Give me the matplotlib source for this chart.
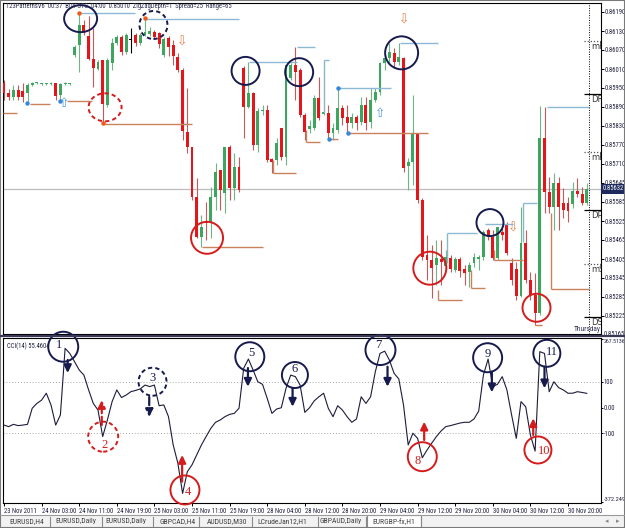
import matplotlib
matplotlib.use('Agg')
import numpy as np
import matplotlib.pyplot as plt
import matplotlib.transforms as mtransforms
from matplotlib.patches import Ellipse, Rectangle
from matplotlib import font_manager
from matplotlib.lines import Line2D
from matplotlib.textpath import TextPath

# ---------------- data ----------------
opens = [
0.85966, 0.85934, 0.85921, 0.85944, 0.85940, 0.85934, 0.85959, 0.85966, 0.85963, 0.85963,
0.85963, 0.85966, 0.85928, 0.85963, 0.85963, 0.86054, 0.86086, 0.86149, 0.86114, 0.86042,
0.86010, 0.86038, 0.85896, 0.86029, 0.86092, 0.86111, 0.86064, 0.86100, 0.86117, 0.86092,
0.86117, 0.86121, 0.86127, 0.86124, 0.86054, 0.86108, 0.86086, 0.86048, 0.86007, 0.85811,
0.85763, 0.85605, 0.85479, 0.85530, 0.85526, 0.85605, 0.85691, 0.85618, 0.85763, 0.85634,
0.85700, 0.86013, 0.85890, 0.85934, 0.85770, 0.85877, 0.85880, 0.85726, 0.85722, 0.85824,
0.85732, 0.85982, 0.86023, 0.86007, 0.85865, 0.85820, 0.85824, 0.85918, 0.85868, 0.85871,
0.85808, 0.85817, 0.85887, 0.85858, 0.85839, 0.85858, 0.85842, 0.85896, 0.85842, 0.85912,
0.85937, 0.86029, 0.86045, 0.86061, 0.86032, 0.86045, 0.85703, 0.85716, 0.85805, 0.85596,
0.85422, 0.85406, 0.85391, 0.85410, 0.85387, 0.85413, 0.85375, 0.85410, 0.85378, 0.85368,
0.85397, 0.85410, 0.85416, 0.85501, 0.85479, 0.85413, 0.85495, 0.85520, 0.85397, 0.85378,
0.85293, 0.85460, 0.85343, 0.85296, 0.85239, 0.85792, 0.85621, 0.85574, 0.85650, 0.85587,
0.85587, 0.85583, 0.85624, 0.85615, 0.85587]
highs = [
0.85975, 0.85947, 0.85959, 0.85959, 0.85966, 0.85966, 0.85969, 0.85969, 0.85966, 0.85966,
0.85969, 0.85966, 0.85966, 0.85969, 0.85966, 0.86086, 0.86187, 0.86165, 0.86177, 0.86140,
0.86038, 0.86038, 0.86045, 0.86108, 0.86117, 0.86117, 0.86124, 0.86140, 0.86124, 0.86124,
0.86171, 0.86143, 0.86133, 0.86127, 0.86111, 0.86114, 0.86102, 0.86061, 0.86013, 0.85950,
0.85763, 0.85666, 0.85549, 0.85590, 0.85637, 0.85713, 0.85691, 0.85763, 0.85770, 0.85745,
0.85732, 0.86019, 0.86032, 0.85937, 0.85887, 0.85896, 0.85896, 0.85729, 0.85792, 0.85824,
0.86023, 0.86029, 0.86079, 0.86013, 0.85871, 0.85849, 0.85928, 0.85985, 0.85887, 0.85896,
0.85839, 0.85950, 0.85896, 0.85896, 0.85871, 0.85865, 0.85921, 0.85921, 0.85950, 0.85950,
0.86032, 0.86051, 0.86092, 0.86076, 0.86092, 0.86048, 0.85729, 0.85928, 0.85808, 0.85602,
0.85485, 0.85454, 0.85470, 0.85470, 0.85438, 0.85422, 0.85416, 0.85416, 0.85391, 0.85400,
0.85429, 0.85422, 0.85501, 0.85508, 0.85501, 0.85511, 0.85508, 0.85526, 0.85413, 0.85400,
0.85574, 0.85501, 0.85368, 0.85365, 0.85893, 0.85890, 0.85669, 0.85681, 0.85669, 0.85634,
0.85605, 0.85653, 0.85666, 0.85637, 0.85650]
lows = [
0.85912, 0.85912, 0.85912, 0.85912, 0.85906, 0.85903, 0.85956, 0.85963, 0.85959, 0.85959,
0.85959, 0.85912, 0.85909, 0.85959, 0.85959, 0.86048, 0.86000, 0.86117, 0.86038, 0.85953,
0.86007, 0.85839, 0.85890, 0.86007, 0.86086, 0.86054, 0.86057, 0.86061, 0.86083, 0.86086,
0.86114, 0.86114, 0.86108, 0.86076, 0.86048, 0.86051, 0.86023, 0.86000, 0.85786, 0.85745,
0.85596, 0.85476, 0.85447, 0.85470, 0.85476, 0.85564, 0.85564, 0.85555, 0.85596, 0.85596,
0.85621, 0.85792, 0.85887, 0.85754, 0.85748, 0.85865, 0.85716, 0.85681, 0.85707, 0.85722,
0.85707, 0.85975, 0.85912, 0.85858, 0.85786, 0.85808, 0.85817, 0.85849, 0.85865, 0.85789,
0.85786, 0.85808, 0.85833, 0.85808, 0.85824, 0.85817, 0.85833, 0.85817, 0.85824, 0.85906,
0.85928, 0.86007, 0.86029, 0.86013, 0.86023, 0.85684, 0.85628, 0.85643, 0.85587, 0.85406,
0.85343, 0.85286, 0.85327, 0.85327, 0.85375, 0.85368, 0.85368, 0.85353, 0.85327, 0.85321,
0.85384, 0.85375, 0.85406, 0.85470, 0.85406, 0.85406, 0.85470, 0.85422, 0.85327, 0.85280,
0.85289, 0.85334, 0.85280, 0.85201, 0.85233, 0.85555, 0.85555, 0.85501, 0.85501, 0.85539,
0.85526, 0.85571, 0.85605, 0.85580, 0.85580]
closes = [
0.85934, 0.85921, 0.85944, 0.85921, 0.85921, 0.85959, 0.85966, 0.85967, 0.85964, 0.85964,
0.85966, 0.85925, 0.85963, 0.85966, 0.85964, 0.86079, 0.86149, 0.86127, 0.86042, 0.86013,
0.86032, 0.85899, 0.86038, 0.86092, 0.86111, 0.86064, 0.86117, 0.86100, 0.86092, 0.86117,
0.86127, 0.86130, 0.86111, 0.86089, 0.86105, 0.86079, 0.86051, 0.86007, 0.85814, 0.85763,
0.85605, 0.85479, 0.85511, 0.85523, 0.85605, 0.85684, 0.85628, 0.85763, 0.85634, 0.85700,
0.85628, 0.85890, 0.85934, 0.85770, 0.85877, 0.85880, 0.85722, 0.85716, 0.85776, 0.85732,
0.86023, 0.86023, 0.86000, 0.85865, 0.85811, 0.85830, 0.85918, 0.85855, 0.85874, 0.85808,
0.85824, 0.85887, 0.85855, 0.85839, 0.85858, 0.85839, 0.85896, 0.85839, 0.85912, 0.85937,
0.86029, 0.86045, 0.86064, 0.86032, 0.86048, 0.85697, 0.85716, 0.85805, 0.85596, 0.85416,
0.85406, 0.85381, 0.85413, 0.85400, 0.85416, 0.85378, 0.85410, 0.85372, 0.85365, 0.85391,
0.85416, 0.85416, 0.85495, 0.85479, 0.85413, 0.85511, 0.85485, 0.85429, 0.85343, 0.85293,
0.85460, 0.85343, 0.85296, 0.85239, 0.85792, 0.85621, 0.85574, 0.85650, 0.85574, 0.85564,
0.85561, 0.85624, 0.85615, 0.85587, 0.85632]

cci_values = [
-69, -75, -66, -71, -69, -66, -3, 16, 29, 56,
10, -69, -29, 232, 212, 180, 147, 127, 69, 16,
-10, -114, -49, 23, 69, 39, 49, 62, 67, 73,
88, 82, 88, 7, 10, -36, -147, -219, -337, -252,
-225, -186, -147, -114, -82, -58, -49, -36, -27, -23,
-3, 154, 190, 147, 101, 91, 36, -23, -6, -1,
75, 127, 121, 88, -19, -1, 26, 42, 56, -3,
-36, 7, -10, -36, -58, -45, 42, 16, 42, 140,
212, 221, 186, 134, 112, 10, -147, -101, -121, -197,
-167, -140, -114, -92, -75, -71, -66, -61, -58, -58,
-45, -14, 127, 190, 82, 91, 121, 69, -29, -121,
23, 3, -108, -171, 219, 212, 62, 101, 78, 69,
56, 56, 62, 59, 55.46]

date_tick_bars = [0, 8, 16, 24, 32, 40, 48, 56, 64, 72, 80, 88, 96, 104, 112, 120]
date_labels = ['23 Nov 2011', '24 Nov 03:00', '24 Nov 11:00', '24 Nov 19:00', '25 Nov 03:00',
               '25 Nov 11:00', '25 Nov 19:00', '28 Nov 04:00', '28 Nov 12:00', '28 Nov 20:00',
               '29 Nov 04:00', '29 Nov 12:00', '29 Nov 20:00', '30 Nov 04:00', '30 Nov 12:00',
               '30 Nov 20:00']

price_tick_values = [0.86190, 0.86130, 0.86070, 0.86010, 0.85950, 0.85890, 0.85830, 0.85770,
                     0.85710, 0.85650, 0.85590, 0.85530, 0.85470, 0.85410, 0.85350, 0.85290,
                     0.85230, 0.85170]
price_tick_labels = ['0.86190', '0.86130', '0.86070', '0.86010', '0.85950', '0.85890', '0.85830',
                     '0.85770', '0.85710', '0.85645', '0.85585', '0.85525', '0.85465', '0.85405',
                     '0.85345', '0.85285', '0.85225', '0.85165']
cci_tick_values = [267.5136, 100, 0, -100, -372.249]
cci_tick_labels = ['267.5136', '100', '0.00', '-100', '-372.249']

# 123-pattern level lines
blue_h_start = [16.0, 30.0, 52.1, 62.3, 71.1, 84.3, 115.5, 94.3, 102.3, 110.4, 68.1]
blue_h_end = [27.9, 50.0, 62.3, 66.2, 82.3, 92.3, 124.5, 100.6, 108.3, 113.4, 69.2]
blue_h_level = [0.86186, 0.86168, 0.86031, 0.86080, 0.85951, 0.86091, 0.85891, 0.85493,
                0.85522, 0.85586, 0.86038]
blue_v_x = [94.3, 110.4, 68.1]
blue_v_top = [0.85493, 0.85586, 0.86038]
blue_v_bottom = [0.85397, 0.85464, 0.85871]

org_h_start = [5.5, 13.4, -0.2, 21.1, 42.1, 57.2, 64.3, 69.4, 73.2, 92.3, 99.4, 104.3, 116.4, 113.0]
org_h_end = [9.8, 18.7, 2.8, 40.0, 55.1, 62.1, 67.2, 71.1, 90.2, 97.4, 102.3, 110.4, 124.5, 114.5]
org_h_level = [0.85899, 0.85909, 0.85872, 0.85836, 0.85447, 0.85680, 0.85780, 0.85788, 0.85807,
               0.85282, 0.85319, 0.85406, 0.85314, 0.85201]
org_v_x = [57.2, 64.3, 92.3, 99.4, 104.3, 116.4]
org_v_top = [0.85722, 0.85817, 0.85312, 0.85375, 0.85438, 0.85555]
org_v_bottom = [0.85680, 0.85780, 0.85282, 0.85319, 0.85406, 0.85314]

blue_dot_x = [4.9, 11.9, 71.1, 69.1, 73.2]
blue_dot_y = [0.85903, 0.85909, 0.85951, 0.85789, 0.85808]
orange_dot_x = [16.0, 21.1, 30.0]
orange_dot_y = [0.86187, 0.85839, 0.86171]

hollow_x = [12.8, 38.0, 85.2, 80.1, 108.4]
hollow_y = [0.85901, 0.86094, 0.86165, 0.85871, 0.85508]
hollow_up = [True, False, False, True, False]

pivot_names = ['mR', 'DR', 'mR', 'DP', 'mS', 'DS']
pivot_levels = [0.86098, 0.85931, 0.85748, 0.85564, 0.85394, 0.85226]
pivot_dotted = [True, False, True, False, True, False]

pc_x = [16.3, 31.8, 21.5, 51.4, 62.8, 43.2, 84.6, 90.6, 103.4, 113.3]
pc_y = [0.86169, 0.86149, 0.85889, 0.86004, 0.86000, 0.85477, 0.86061, 0.85381, 0.85525, 0.85256]
pc_red = [False, False, True, False, False, True, False, True, False, True]
pc_dash = [False, True, True, False, False, False, False, False, False, False]
cc_x = [12.6, 21.1, 31.6, 38.5, 52.3, 61.9, 80.1, 89.0, 102.9, 113.6, 115.5]
cc_y = [238.3, -114.5, 101.1, -323.4, 199.1, 127.4, 225.4, -192.9, 195.2, -166.6, 212.5]
cc_red = [False, True, False, True, False, False, False, True, False, True, False]
cc_dash = [False, True, True, False, False, False, False, False, False, False, False]
cc_text = ['1', '2', '3', '4', '5', '6', '7', '8', '9', '10', '11']
ca_x = [13.55, 20.8, 30.9, 37.9, 51.9, 61.4, 81.6, 89.4, 103.8, 112.6, 115.0]
ca_from = [186.2, -68.6, 41.2, -290.9, 154.8, 76.4, 159.9, -127.4, 140.3, -107.8, 159.9]
ca_to = [135.2, 29.4, -37.2, -186.2, 81.5, 3.1, 81.5, -55.7, 59.6, -42.3, 75.3]

tab_names = ['EURUSD,H4', 'EURUSD,Daily', 'EURUSD,Daily', 'GBPCAD,H4', 'AUDUSD,M30',
             'LCrudeJan12,H1', 'GBPAUD,Daily', 'EURGBP-fx,H1']

# ---------------- fonts ----------------
SMALL_FP = None
names = sorted({f.name for f in font_manager.fontManager.ttflist})
for cand in ['Liberation Sans Narrow', 'Arial Narrow', 'Roboto Condensed', 'DejaVu Sans Condensed']:
    if cand in names:
        SMALL_FP = font_manager.FontProperties(family=cand)
        break
if SMALL_FP is None:
    SMALL_FP = font_manager.FontProperties(family='Liberation Sans')

def size_for(text, px, fp):
    w = TextPath((0, 0), text, size=1, prop=fp).get_extents().width
    return px * 0.72 / w

SSIZE = min(5.4, size_for('24 Nov 03:00', 34, SMALL_FP))
TSIZE = min(6.0, size_for('EURUSD,H4', 34, SMALL_FP))

def sm(size=None):
    fp = SMALL_FP.copy()
    fp.set_size(size or SSIZE)
    return fp

W, H = 625.0, 528.0
def fx(p): return p / W
def fy(p): return 1 - p / H

BAR_PX, X0_PX = 4.7, 4.0
L_PX, R_PX = 3.0, 601.0
PT_PX, PB_PX = 3.0, 334.0
CT_PX, CB_PX = 338.0, 503.0
PRICE_PER_PX = 0.0006 / 19
def price_at(py): return 0.86190 - (py - 12) * PRICE_PER_PX
CCI_PER_PX = 200 / 51
def cci_at(py): return (407.5 - py) * CCI_PER_PX

NAVY = '#161a4c'
RED = '#d41c1c'
GREEN_B, RED_B = '#3ea55f', '#e3161b'
GREEN_W, RED_W = '#6db787', '#c45a5a'
BLUE_L, ORG_L = '#8db8d6', '#c8835c'
TXT = '#202040'

fig = plt.figure(figsize=(6.25, 5.28), dpi=100)
fig.patch.set_facecolor('white')

ax = fig.add_axes([fx(L_PX), fy(PB_PX), (R_PX - L_PX) / W, (PB_PX - PT_PX) / H])
cax = fig.add_axes([fx(L_PX), fy(CB_PX), (R_PX - L_PX) / W, (CB_PX - CT_PX) / H])
xl = ((L_PX - X0_PX) / BAR_PX, (R_PX - X0_PX) / BAR_PX)
for a in (ax, cax):
    a.set_xlim(*xl)
    for s in a.spines.values():
        s.set_linewidth(0.8)
        s.set_color('black')
ax.set_ylim(price_at(PB_PX), price_at(PT_PX))
cax.set_ylim(cci_at(CB_PX), cci_at(CT_PX))

# ---------------- candles ----------------
o, h, l, c = map(np.array, (opens, highs, lows, closes))
idx = np.arange(len(c))
up = c > o
dn = c < o
wick_cols = [GREEN_W if u else (RED_W if d else 'black') for u, d in zip(up, dn)]
body_cols = [GREEN_B if u else (RED_B if d else 'black') for u, d in zip(up, dn)]
ax.axhline(c[-1], color='#bdbdbd', lw=0.9, zorder=1)
ax.vlines(idx, l, h, colors=wick_cols, lw=0.8, zorder=2)
body_h = np.maximum(np.abs(c - o), PRICE_PER_PX)
ax.bar(idx, body_h, bottom=np.minimum(o, c), width=0.62, color=body_cols, lw=0, zorder=3)

ax.hlines(blue_h_level, blue_h_start, blue_h_end, colors=BLUE_L, lw=1.0, zorder=4)
ax.vlines(blue_v_x, blue_v_bottom, blue_v_top, colors='#86b9c4', lw=1.0, zorder=4)
ax.hlines(org_h_level, org_h_start, org_h_end, colors=ORG_L, lw=1.0, zorder=4)
ax.vlines(org_v_x, org_v_bottom, org_v_top, colors=ORG_L, lw=1.0, zorder=4)
ax.plot(blue_dot_x, blue_dot_y, 'o', color='#3388dd', ms=3.2, mec='none', zorder=6)
ax.plot(orange_dot_x, orange_dot_y, 'o', color='#ee5a1c', ms=3.2, mec='none', zorder=6)
for x, y, u in zip(hollow_x, hollow_y, hollow_up):
    ax.text(x, y, '\u21e7' if u else '\u21e9', ha='center', va='center', fontsize=9,
            family='DejaVu Sans', color='#4f95d6' if u else '#e0804f', zorder=6)

xr = xl[1]
for name, lev, dot in zip(pivot_names, pivot_levels, pivot_dotted):
    ax.hlines(lev, 123.4, xr, colors='#555555' if dot else 'black', lw=0.9,
              linestyles=(0, (1, 1.5)) if dot else '-', zorder=5)
    ax.text(124.9, lev - 1 * PRICE_PER_PX, name, fontsize=6, family='DejaVu Sans', color='#3a3a3a',
            va='top', ha='left', zorder=5, clip_on=True)
ax.axvline(124.5, color='black', lw=0.7, ls=(0, (1, 1.5)), zorder=5)
ax.text(121.2, price_at(330), 'Thursday', color='#333355', va='center', ha='left', clip_on=True,
        zorder=5, fontproperties=sm(SSIZE * 1.1))

def draw_circle(axis, x, y, rx, ry, color, dashed, lw=1.4):
    tr = fig.dpi_scale_trans + mtransforms.ScaledTranslation(x, y, axis.transData)
    e = Ellipse((0, 0), 2 * rx / 100, 2 * ry / 100, transform=tr, fill=False, ec=color,
                lw=lw, ls=(0, (2.2, 1.6)) if dashed else '-', zorder=8, clip_on=False)
    axis.add_patch(e)

pc_rx = [16.5, 14, 16.5, 14, 14, 16, 16.5, 16.5, 13.5, 14]
pc_ry = [13.5, 14, 14, 14, 14, 16, 16.5, 16.5, 13.5, 14]
for x, y, rx, ry, r, d in zip(pc_x, pc_y, pc_rx, pc_ry, pc_red, pc_dash):
    draw_circle(ax, x, y, rx, ry, RED if r else NAVY, d)

# price axis
ax.yaxis.tick_right()
ax.set_yticks(price_tick_values[:-1])
ax.set_yticklabels(price_tick_labels[:-1])
for lab in ax.get_yticklabels():
    lab.set_fontproperties(sm())
    lab.set_color(TXT)
ax.tick_params(axis='y', length=2, width=0.7, pad=0.8)
ax.set_xticks([])
ytrans = mtransforms.blended_transform_factory(ax.transAxes, ax.transData)
ax.text(1.0 + 3 / 598, price_tick_values[-1], price_tick_labels[-1], transform=ytrans,
        color=TXT, va='center', ha='left', clip_on=False, fontproperties=sm())
ax.text(1.0 + 1.5 / 598, c[-1], '0.85632', transform=ytrans, color='white', va='center',
        ha='left', clip_on=False, zorder=10, fontproperties=sm(),
        bbox=dict(boxstyle='square,pad=0.2', fc='#1e2a5e', ec='none'))

fig.text(fx(6), fy(6.5), '123PatternsV6  00:37  BUY-STG  04:00  0.85010  ZigZagDepth=1  Spread=25  Range=65',
         color='#2c2c4c', va='center', ha='left', fontproperties=sm())

# ---------------- CCI panel ----------------
cax.plot(idx, cci_values, color='#1c1c3c', lw=0.8, zorder=3)
for lv in (100, -100):
    cax.axhline(lv, color='#a8a8a8', lw=0.7, ls=(0, (1, 2)), zorder=1)
cax.yaxis.tick_right()
cax.set_yticks(cci_tick_values)
cax.set_yticklabels(cci_tick_labels)
labs = cax.get_yticklabels()
for lab in labs:
    lab.set_fontproperties(sm())
    lab.set_color(TXT)
labs[0].set_fontproperties(sm(min(SSIZE, size_for('267.5136', 21.5, SMALL_FP))))
labs[-1].set_fontproperties(sm(min(SSIZE, size_for('-372.249', 21.5, SMALL_FP))))
labs[0].set_va('top')
labs[-1].set_va('bottom')
cax.tick_params(axis='y', length=1.5, width=0.7, pad=0.4)
cax.set_xticks(date_tick_bars)
cax.set_xticklabels(date_labels)
for lab in cax.get_xticklabels():
    lab.set_fontproperties(sm())
    lab.set_color(TXT)
    lab.set_ha('left')
cax.tick_params(axis='x', length=2, width=0.7, pad=1.5)
cax.text(0.006, 0.975, 'CCI(14) 55.4604', transform=cax.transAxes, color=TXT, va='top',
         ha='left', fontproperties=sm())

cc_r = [15, 15, 14, 14.5, 14.5, 13, 15, 14.5, 14.5, 13.5, 13.5]
cc_dx = [-4, 1, 0, 3, 2, 0, -2, -5, 0, 6, 5]
cc_dy = [-2, 8, -4, 2, -4, -6, -5, 4, -4, 1, -1]
for x, y, r, red, d, t, dx, dy in zip(cc_x, cc_y, cc_r, cc_red, cc_dash, cc_text, cc_dx, cc_dy):
    col = RED if red else NAVY
    draw_circle(cax, x, y, r, r, col, d)
    cax.annotate(t, (x, y), xytext=(dx * 0.72, -dy * 0.72), textcoords='offset points',
                 ha='center', va='center', fontsize=9, family='Liberation Serif', color=col,
                 zorder=9, annotation_clip=False)
for x, y0, y1, red, d in zip(ca_x, ca_from, ca_to, cc_red, cc_dash):
    col = RED if red else NAVY
    cax.annotate('', xy=(x, y1), xytext=(x, y0),
                 arrowprops=dict(arrowstyle='-|>,head_width=0.22,head_length=0.45',
                                 color=col, lw=1.6, ls='--' if d else '-',
                                 shrinkA=0, shrinkB=0), zorder=9, annotation_clip=False)

# ---------------- frame, separator, tabs ----------------
fig.add_artist(Line2D([0, 1], [fy(336.2), fy(336.2)], transform=fig.transFigure,
                      color='#3a3a58', lw=1.6))
fig.add_artist(Rectangle((0, 0), 1, fy(515), transform=fig.transFigure, fc='#f2f2f2',
                         ec='none'))
fig.add_artist(Line2D([0, 1], [fy(515), fy(515)], transform=fig.transFigure,
                      color='#9a9a9a', lw=0.8))
tab_left = [9, 55, 105, 160, 207, 257, 320, 372]
seps = [50, 102, 153, 199, 252, 318, 366, 421]
for px in seps:
    fig.add_artist(Line2D([fx(px), fx(px)], [fy(526), fy(517)], transform=fig.transFigure,
                          color='#8a8a8a', lw=0.8))
fig.add_artist(Rectangle((fx(366.5), fy(528)), fx(421) - fx(366.5), (528 - 514.5) / H,
                         transform=fig.transFigure, fc='white', ec='#8a8a8a', lw=0.8))
for name, px in zip(tab_names, tab_left):
    fig.text(fx(px), fy(521.5), name, fontproperties=sm(TSIZE), color='#404040',
             va='center', ha='left')
fig.text(fx(607), fy(521.5), '\u25c2', fontsize=5, color='#888888', va='center', ha='center')
fig.text(fx(618), fy(521.5), '\u25b8', fontsize=5, color='#888888', va='center', ha='center')
fig.add_artist(Rectangle((0, 0), 1, 1, transform=fig.transFigure, fill=False, ec='#7a7a7a',
                         lw=1.5))

fig.savefig('out.png', dpi=100, facecolor='white')
